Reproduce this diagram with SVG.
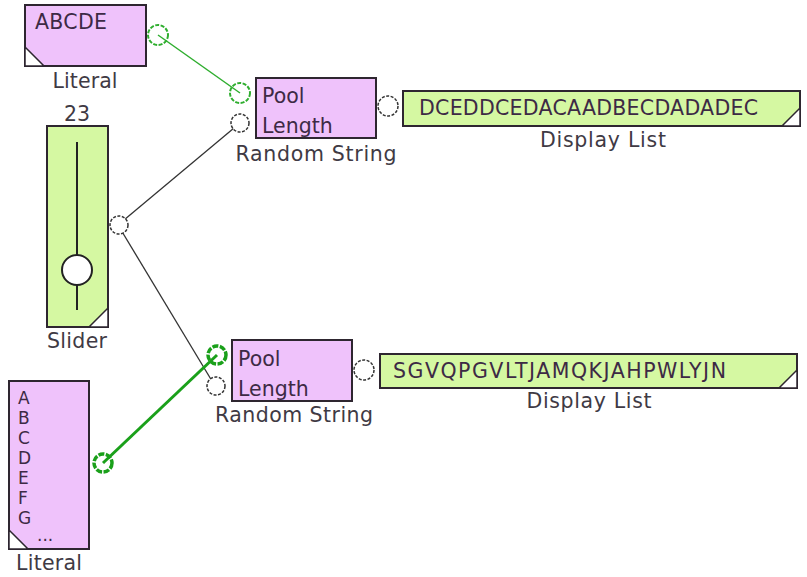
<svg xmlns="http://www.w3.org/2000/svg" width="807" height="577" viewBox="0 0 807 577">
<style>
.pink{fill:#efc2fb;stroke:#2e2630;stroke-width:2}
.green{fill:#d5f8a2;stroke:#2e2630;stroke-width:2}
.corner{fill:#fff;stroke:#2e2630;stroke-width:1.5}
.t{font-family:"DejaVu Sans",Verdana,sans-serif;font-size:20.5px;fill:#3d2a45}
.s{font-family:"DejaVu Sans",Verdana,sans-serif;font-size:17px;fill:#3d2a45}
.lbl{font-family:"DejaVu Sans",Verdana,sans-serif;font-size:20.5px;fill:#3f3a44;text-anchor:middle}
.port{fill:#fff;stroke:#333;stroke-width:1.5;stroke-dasharray:3 1.5}
.gport{fill:none;stroke:#2fae2f;stroke-width:2;stroke-dasharray:4 1.5}
.gport2{fill:none;stroke:#1aa01a;stroke-width:3.5;stroke-dasharray:6 1.5}
</style>
<rect width="807" height="577" fill="#fff"/>
<g id="connectors">
<line x1="158" y1="35" x2="240" y2="93" stroke="#2fae2f" stroke-width="1.5"/>
<line x1="118" y1="225" x2="240" y2="123" stroke="#333" stroke-width="1.3"/>
<line x1="118" y1="225" x2="215" y2="386" stroke="#333" stroke-width="1.3"/>
<line x1="103" y1="463" x2="217" y2="355" stroke="#1aa01a" stroke-width="3"/>
</g>
<g id="literal1">
<rect class="pink" x="25" y="5" width="121" height="61"/>
<path class="corner" d="M25,47 L44,66 L25,66 Z"/>
<text class="t" x="35" y="29" textLength="72">ABCDE</text>
<text class="lbl" x="85" y="88" textLength="65">Literal</text>
<circle class="gport" cx="158" cy="35" r="10"/>
</g>
<g id="random1">
<rect class="pink" x="256" y="78" width="120" height="60"/>
<text class="t" x="262" y="103">Pool</text>
<text class="t" x="262" y="133">Length</text>
<text class="lbl" x="316" y="161" textLength="161">Random String</text>
<circle class="gport" cx="240" cy="93" r="10"/>
<circle class="port" cx="240" cy="123" r="9"/>
<circle class="port" cx="388" cy="106" r="10"/>
</g>
<g id="display1">
<rect class="green" x="403" y="91" width="397" height="35"/>
<path class="corner" d="M800,108 L800,126 L782,126 Z"/>
<text class="t" x="419" y="115" textLength="339">DCEDDCEDACAADBECDADADEC</text>
<text class="lbl" x="603" y="147" textLength="126">Display List</text>
</g>
<g id="slider">
<text class="lbl" x="77" y="121">23</text>
<rect class="green" x="47" y="126" width="61" height="201"/>
<path class="corner" d="M108,308 L108,327 L89,327 Z"/>
<line x1="77" y1="142" x2="77" y2="310" stroke="#222" stroke-width="2"/>
<circle cx="77" cy="270" r="15" fill="#fff" stroke="#222" stroke-width="2"/>
<text class="lbl" x="77" y="348" textLength="60">Slider</text>
<circle class="port" cx="119" cy="225" r="9"/>
</g>
<g id="random2">
<rect class="pink" x="232" y="340" width="120" height="61"/>
<text class="t" x="238" y="366">Pool</text>
<text class="t" x="238" y="396">Length</text>
<text class="lbl" x="294" y="422" textLength="158">Random String</text>
<circle class="gport2" cx="217" cy="355" r="9"/>
<circle class="port" cx="216" cy="386" r="9"/>
<circle class="port" cx="364" cy="370" r="10"/>
</g>
<g id="display2">
<rect class="green" x="380" y="354" width="417" height="34"/>
<path class="corner" d="M797,370 L797,388 L779,388 Z"/>
<text class="t" x="393" y="378" textLength="333">SGVQPGVLTJAMQKJAHPWLYJN</text>
<text class="lbl" x="589" y="408" textLength="125">Display List</text>
</g>
<g id="literal2">
<rect class="pink" x="9" y="381" width="80" height="168"/>
<path class="corner" d="M9,530 L28,549 L9,549 Z"/>
<text class="s" x="18" y="404">A</text>
<text class="s" x="18" y="424">B</text>
<text class="s" x="18" y="444">C</text>
<text class="s" x="18" y="464">D</text>
<text class="s" x="18" y="484">E</text>
<text class="s" x="18" y="504">F</text>
<text class="s" x="18" y="524">G</text>
<text class="s" x="37" y="541">...</text>
<text class="lbl" x="49" y="570" textLength="66">Literal</text>
<circle class="gport2" cx="103" cy="463" r="9"/>
</g>
</svg>
